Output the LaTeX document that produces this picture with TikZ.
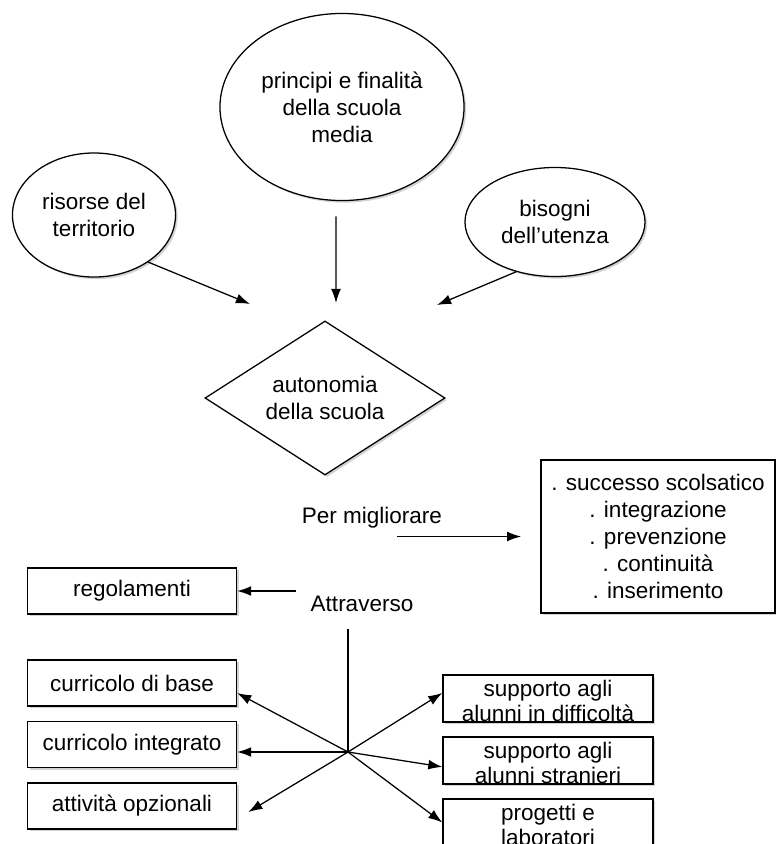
\documentclass[tikz,border=0pt]{standalone}
\usepackage{fontspec}
\setmainfont{Liberation Sans}
\usetikzlibrary{shapes.geometric, arrows.meta, shadows}

\newcommand{\sunk}[1]{\raisebox{0pt}[33pt][0pt]{\renewcommand\arraystretch{0.93}\begin{tabular}[b]{@{}c@{}}#1\end{tabular}}}

\begin{document}
\begin{tikzpicture}[x=0.025cm, y=-0.025cm]
	\tikzstyle{every node} = [font=\fontsize{16}{19.2}\selectfont]
	\tikzstyle{bubble} = [ellipse, draw=black, fill=white, line width=0.9pt, align=center, inner sep=0pt, drop shadow={shadow xshift=1.5pt, shadow yshift=-1.5pt, opacity=0.35}]
	\tikzstyle{choice} = [diamond, draw=black, fill=white, line width=0.9pt, align=center, inner sep=0pt, aspect=1.55, minimum width=6cm, minimum height=3.85cm, drop shadow={shadow xshift=1.5pt, shadow yshift=-1.5pt, opacity=0.35}]
	\tikzstyle{card} = [rectangle, draw=black, fill=white, line width=0.9pt, align=center, drop shadow={shadow xshift=1.5pt, shadow yshift=-1.5pt, opacity=0.35}]
	\tikzstyle{leftcard} = [card, minimum width=5.225cm, minimum height=1.15cm]
	\tikzstyle{rightcard} = [card, minimum width=5.25cm, minimum height=1.175cm, inner ysep=0pt]
	\tikzstyle{arrow} = [-{Latex[length=10pt,width=7pt]}, line width=0.9pt]
	\useasboundingbox (0,0) rectangle (776,844);
	\node[bubble, minimum width=6.1cm, minimum height=4.675cm] (principi) at (342,107) {principi e finalità\\della scuola\\media};
	\node[bubble, minimum width=4.075cm, minimum height=3.1cm] (risorse) at (94,215) {risorse del\\territorio};
	\node[bubble, minimum width=4.5cm, minimum height=2.725cm] (bisogni) at (555,222) {bisogni\\dell'utenza};
	\node[choice] (auto) at (325,398) {autonomia\\della scuola};
	\node (pm) at (372,518) {Per migliorare};
	\node[card, minimum width=5.85cm, minimum height=3.825cm] (esiti) at (658,536.5) {. successo scolsatico\\. integrazione\\. prevenzione\\. continuità\\. inserimento};
	\node (attr) at (362,604) {Attraverso};
	\node[leftcard] (reg) at (132,591) {regolamenti};
	\node[leftcard] (cbase) at (132,683) {curricolo di base};
	\node[leftcard] (cint) at (132,744.5) {curricolo integrato};
	\node[leftcard] (attiv) at (132,806) {attività opzionali};
	\node[rightcard] (diff) at (548,698.5) {\sunk{supporto agli\\alunni in difficoltà}};
	\node[rightcard] (stran) at (548,760.5) {\sunk{supporto agli\\alunni stranieri}};
	\node[rightcard] (prog) at (548,822.5) {\sunk{progetti e\\laboratori}};
	\coordinate (hub) at (348,752);
	\coordinate (inL) at (250,304);
	\coordinate (inM) at (336,303);
	\coordinate (inR) at (437,305);
	\coordinate (pmout) at (pm.south |- esiti.west);
	\draw[arrow] (risorse.-41) -- (inL);
	\draw[arrow] ([xshift=-0.15cm,yshift=-0.38cm]principi.south) -- (inM);
	\draw[arrow] (bisogni.-128) -- (inR);
	\draw[arrow] ([xshift=0.62cm]pmout) -- ([xshift=-0.48cm]esiti.west);
	\draw[arrow, shorten <=0.25cm] (attr.west |- reg.east) -- (reg.east);
	\draw[line width=0.9pt, shorten <=0.3cm] (hub |- attr.south) -- (hub);
	\draw[arrow] (hub) -- ([yshift=-0.25cm]cbase.east);
	\draw[arrow] (hub) -- (hub -| cint.east);
	\draw[arrow] (hub) -- ([xshift=0.28cm,yshift=-0.15cm]attiv.east);
	\draw[arrow] (hub) -- ([yshift=0.14cm]diff.west);
	\draw[arrow] (hub) -- ([yshift=-0.16cm]stran.west);
	\draw[arrow] (hub) -- (prog.west);
\end{tikzpicture}
\end{document}
